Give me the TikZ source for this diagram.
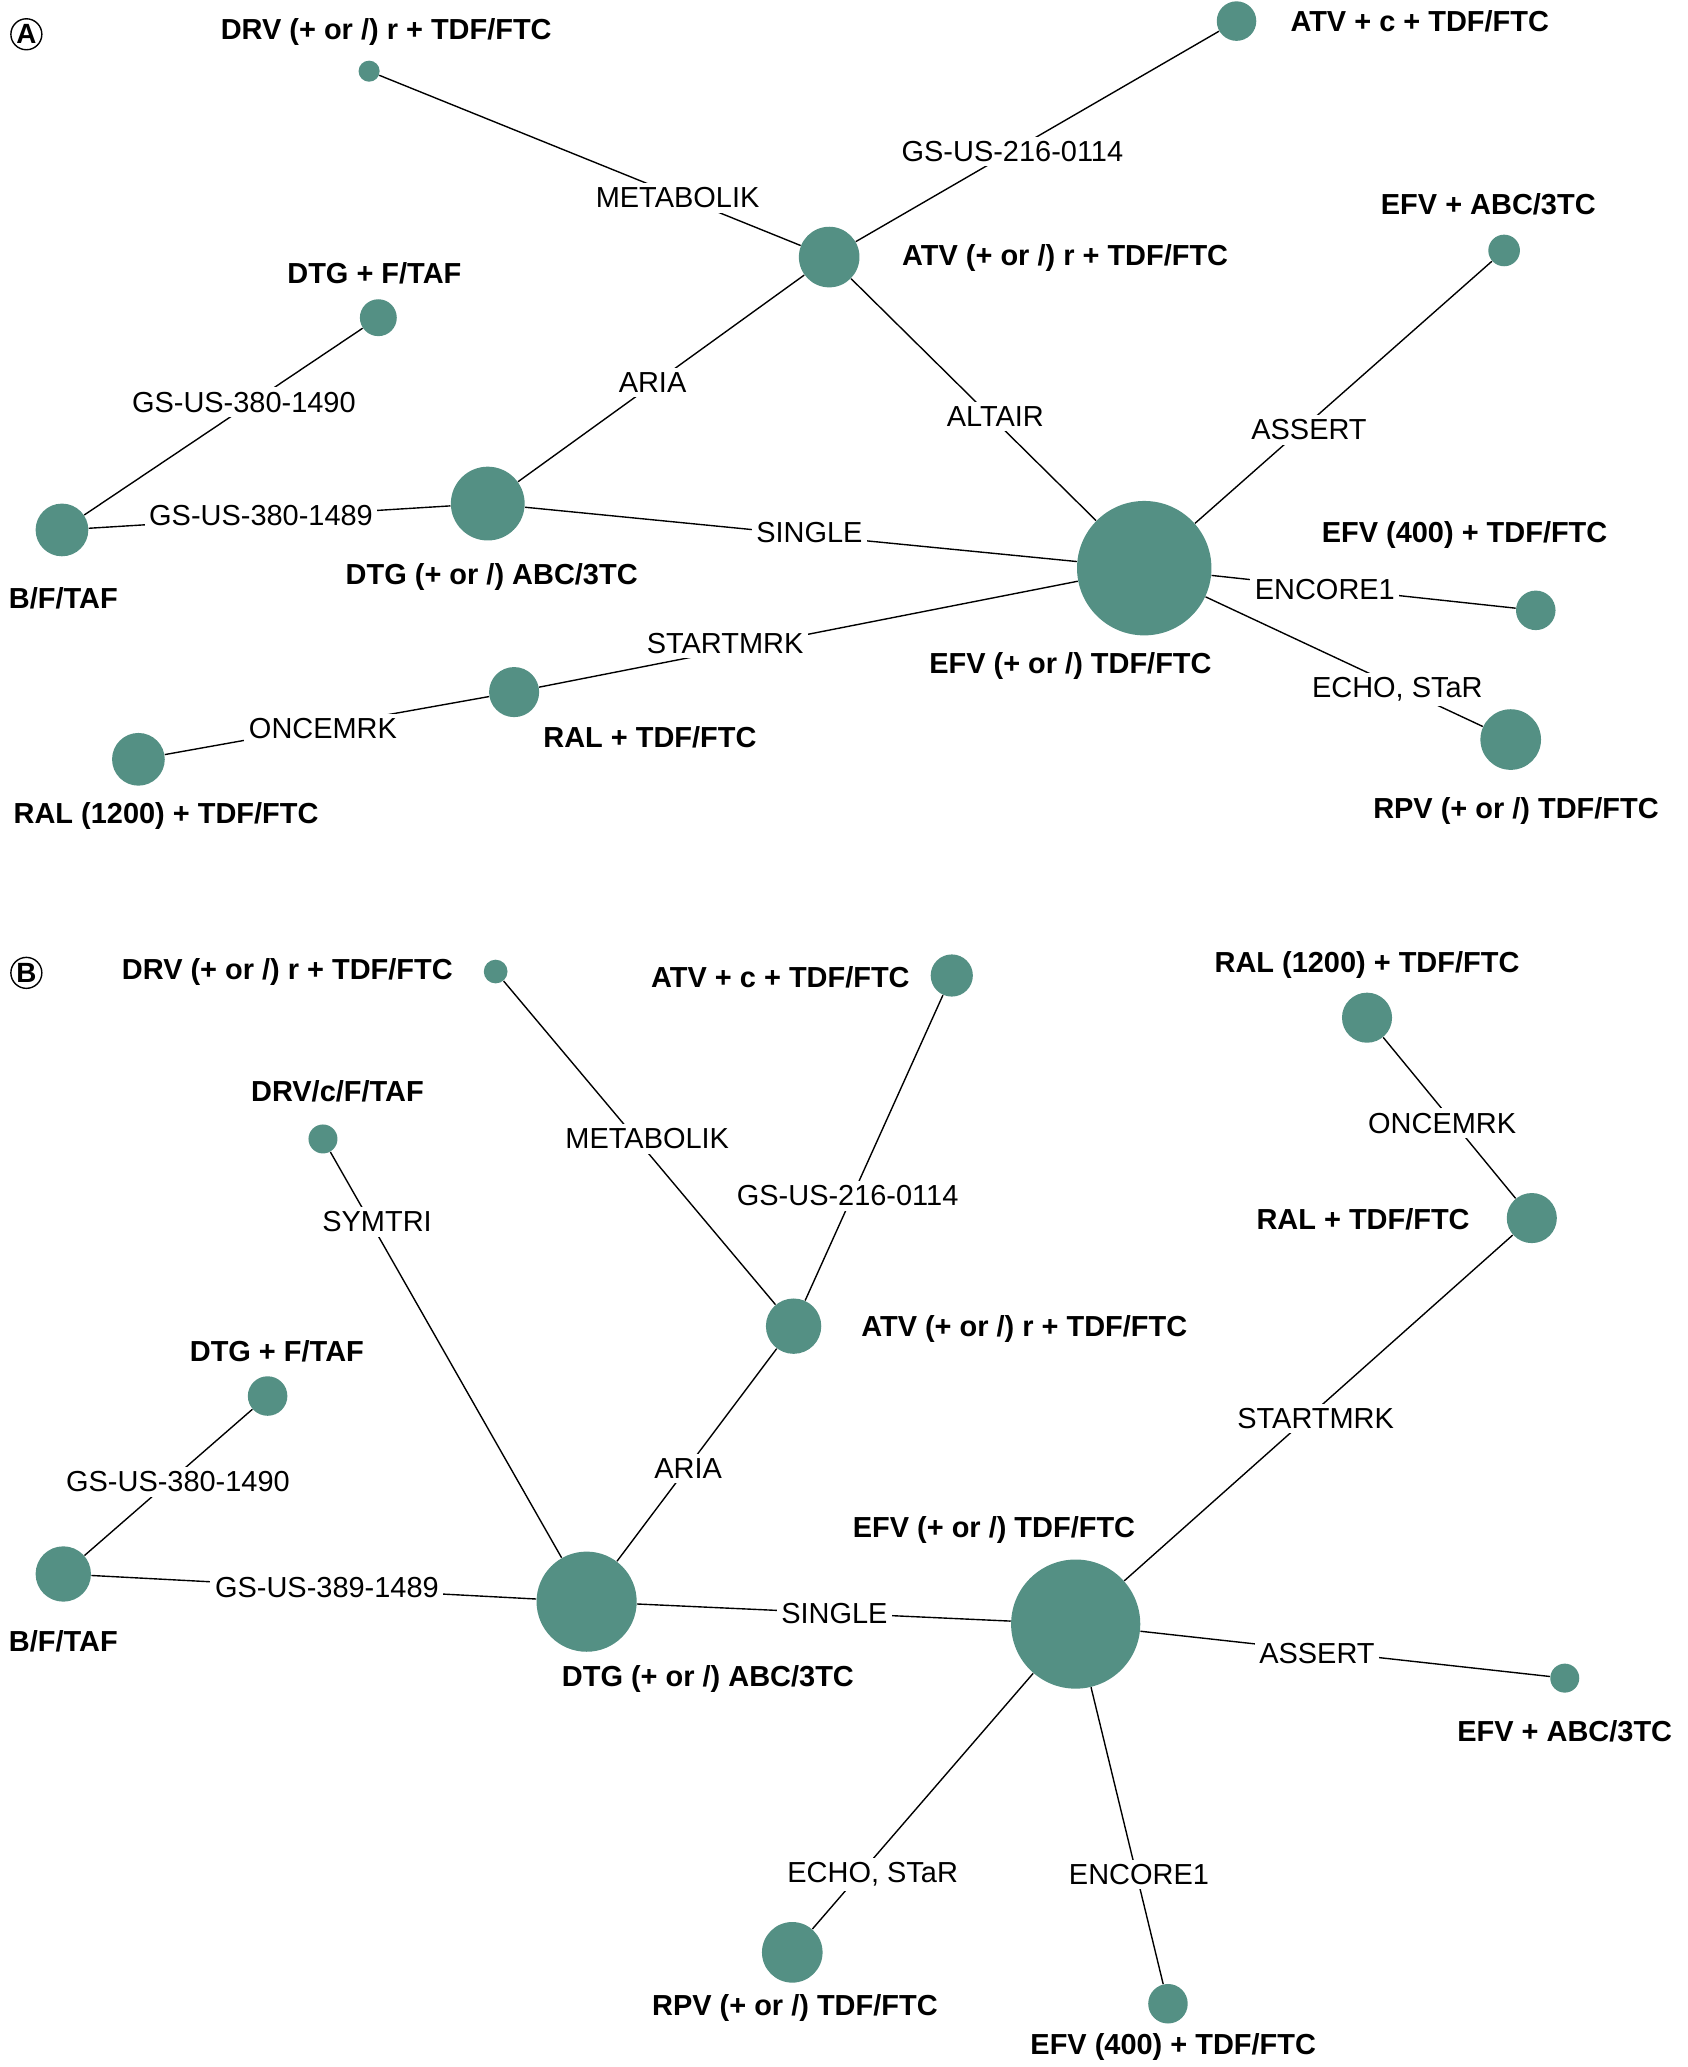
\documentclass[tikz,border=0pt]{standalone}
\usepackage{fontspec}
\setmainfont{Liberation Sans}
\usetikzlibrary{positioning, calc}
\definecolor{trialgreen}{RGB}{84,144,132}
\tikzstyle{dot} = [circle, fill=trialgreen, inner sep=0pt, minimum size=#1*0.2mm]
\tikzstyle{drug} = [inner sep=1pt, font=\fontsize{12.5}{14}\selectfont\bfseries]
\tikzstyle{trial} = [fill=white, inner sep=2pt, font=\fontsize{12.5}{14}\selectfont]
\tikzstyle{link} = [line width=0.6pt]
\tikzstyle{panel} = [circle, draw, inner sep=0.5pt, line width=0.6pt, font=\fontsize{12}{14}\selectfont\bfseries]

\begin{document}
\begin{tikzpicture}[x=0.02cm, y=-0.02cm]
    \useasboundingbox (0,0) rectangle (1280,1568);
    % panel A
    \node[panel] (pa) at (20,26) {A};
    \node[dot=16] (drva) at (280,54) {};
    \node[dot=30] (atvca) at (938,16) {};
    \node[dot=46] (atvra) at (629,195) {};
    \node[dot=28] (dtgfa) at (287,241) {};
    \node[dot=24] (efvabca) at (1141,190) {};
    \node[dot=40] (bftafa) at (47,402) {};
    \node[dot=56] (dtgabca) at (370,382) {};
    \node[dot=102] (efva) at (868,431) {};
    \node[dot=30] (efvfoura) at (1165,463) {};
    \node[dot=38] (rala) at (390,525) {};
    \node[dot=40] (ralonea) at (105,576) {};
    \node[dot=46] (rpva) at (1146,561) {};

    \draw[link] (drva) -- (atvra);
    \draw[link] (atvca) -- (atvra);
    \draw[link] (atvra) -- (dtgabca);
    \draw[link] (atvra) -- (efva);
    \draw[link] (efvabca) -- (efva);
    \draw[link] (dtgfa) -- (bftafa);
    \draw[link] (bftafa) -- (dtgabca);
    \draw[link] (dtgabca) -- (efva);
    \draw[link] (efva) -- (efvfoura);
    \draw[link] (rala) -- (efva);
    \draw[link] (ralonea) -- (rala);
    \draw[link] (efva) -- (rpva);

    \node[trial] (metaa) at (514,150) {METABOLIK};
    \node[trial] (gs216a) at (768,115) {GS-US-216-0114};
    \node[trial] (ariaa) at (495,290) {ARIA};
    \node[trial] (altaira) at (755,316) {ALTAIR};
    \node[trial] (asserta) at (993,326) {ASSERT};
    \node[trial] (gs1490a) at (185,305) {GS-US-380-1490};
    \node[trial] (gs1489a) at (198,391) {GS-US-380-1489};
    \node[trial] (singlea) at (614,404) {SINGLE};
    \node[trial] (encorea) at (1005,447) {ENCORE1};
    \node[trial] (starta) at (550,488) {STARTMRK};
    \node[trial] (oncea) at (245,553) {ONCEMRK};
    \node[trial] (echoa) at (1060,523) {ECHO, STaR};

    \node[drug] at (293,24) {DRV (+ or /) r + TDF/FTC};
    \node[drug] at (1077,16) {ATV + c + TDF/FTC};
    \node[drug] at (808,196) {ATV (+ or /) r + TDF/FTC};
    \node[drug] at (284,207) {DTG + F/TAF};
    \node[drug] at (1129,155) {EFV + ABC/3TC};
    \node[drug] at (48,454) {B/F/TAF};
    \node[drug] at (373,438) {DTG (+ or /) ABC/3TC};
    \node[drug] at (1111,406) {EFV (400) + TDF/FTC};
    \node[drug] at (812,505) {EFV (+ or /) TDF/FTC};
    \node[drug] at (493,559) {RAL + TDF/FTC};
    \node[drug] at (126,619) {RAL (1200) + TDF/FTC};
    \node[drug] at (1150,615) {RPV (+ or /) TDF/FTC};

    % panel B
    \node[panel] (pb) at (20,738) {B};
    \node[dot=18] (drvb) at (376,737) {};
    \node[dot=32] (atvcb) at (722,740) {};
    \node[dot=22] (drvcb) at (245,864) {};
    \node[dot=38] (raloneb) at (1037,772) {};
    \node[dot=38] (ralb) at (1162,924) {};
    \node[dot=42] (atvrb) at (602,1006) {};
    \node[dot=30] (dtgfb) at (203,1059) {};
    \node[dot=42] (bftafb) at (48,1194) {};
    \node[dot=76] (dtgabcb) at (445,1215) {};
    \node[dot=98] (efvb) at (816,1232) {};
    \node[dot=22] (efvabcb) at (1187,1273) {};
    \node[dot=46] (rpvb) at (601,1481) {};
    \node[dot=30] (efvfourb) at (886,1520) {};

    \draw[link] (drvb) -- (atvrb);
    \draw[link] (atvcb) -- (atvrb);
    \draw[link] (drvcb) -- (dtgabcb);
    \draw[link] (raloneb) -- (ralb);
    \draw[link] (atvrb) -- (dtgabcb);
    \draw[link] (dtgfb) -- (bftafb);
    \draw[link] (bftafb) -- (dtgabcb);
    \draw[link] (dtgabcb) -- (efvb);
    \draw[link] (ralb) -- (efvb);
    \draw[link] (efvb) -- (efvabcb);
    \draw[link] (efvb) -- (rpvb);
    \draw[link] (efvb) -- (efvfourb);

    \node[trial] (metab) at (491,864) {METABOLIK};
    \node[trial] (gs216b) at (643,907) {GS-US-216-0114};
    \node[trial] (symtrib) at (286,927) {SYMTRI};
    \node[trial] (onceb) at (1094,852) {ONCEMRK};
    \node[trial] (ariab) at (522,1114) {ARIA};
    \node[trial] (gs1490b) at (135,1124) {GS-US-380-1490};
    \node[trial] (gs1489b) at (248,1204) {GS-US-389-1489};
    \node[trial] (singleb) at (633,1224) {SINGLE};
    \node[trial] (startb) at (998,1076) {STARTMRK};
    \node[trial] (assertb) at (999,1254) {ASSERT};
    \node[trial] (echob) at (662,1422) {ECHO, STaR};
    \node[trial] (encoreb) at (864,1422) {ENCORE1};

    \node[drug] at (218,737) {DRV (+ or /) r + TDF/FTC};
    \node[drug] at (592,741) {ATV + c + TDF/FTC};
    \node[drug] at (256,828) {DRV/c/F/TAF};
    \node[drug] at (1037,732) {RAL (1200) + TDF/FTC};
    \node[drug] at (1034,925) {RAL + TDF/FTC};
    \node[drug] at (777,1008) {ATV (+ or /) r + TDF/FTC};
    \node[drug] at (210,1025) {DTG + F/TAF};
    \node[drug] at (48,1245) {B/F/TAF};
    \node[drug] at (537,1274) {DTG (+ or /) ABC/3TC};
    \node[drug] at (754,1161) {EFV (+ or /) TDF/FTC};
    \node[drug] at (1187,1313) {EFV + ABC/3TC};
    \node[drug] at (603,1523) {RPV (+ or /) TDF/FTC};
    \node[drug] at (890,1553) {EFV (400) + TDF/FTC};
\end{tikzpicture}
\end{document}
